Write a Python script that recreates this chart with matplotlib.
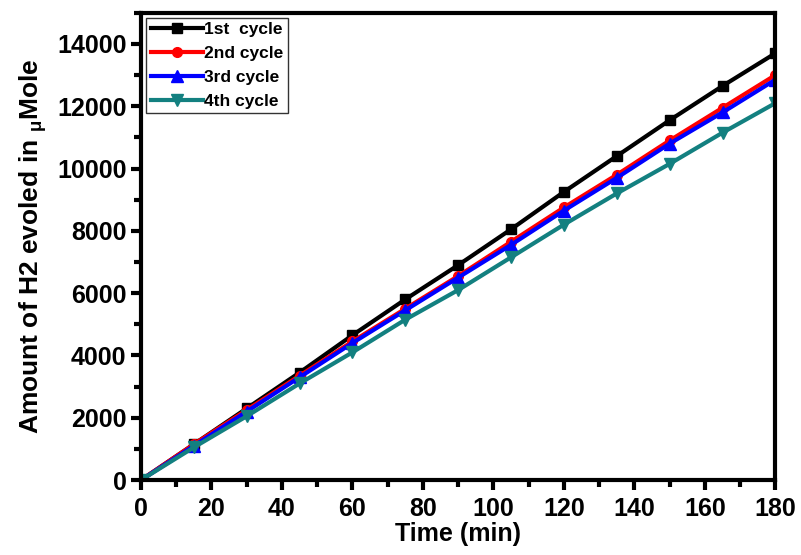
import numpy as np
import matplotlib.pyplot as plt
from matplotlib.ticker import MultipleLocator

plt.rcParams['font.family'] = ['Liberation Sans', 'DejaVu Sans']
plt.rcParams['font.weight'] = 'bold'

# time points (min) and H2 evolved (umol) for each cycle
time_min = [0, 15, 30, 45, 60, 75, 90, 105, 120, 135, 150, 165, 180]
cycle1 = [0, 1150, 2300, 3450, 4650, 5800, 6900, 8050, 9250, 10400, 11550, 12650, 13700]
cycle2 = [0, 1150, 2250, 3350, 4450, 5500, 6550, 7650, 8750, 9800, 10900, 11950, 13000]
cycle3 = [0, 1100, 2200, 3300, 4400, 5450, 6500, 7550, 8650, 9700, 10800, 11800, 12850]
cycle4 = [0, 1050, 2050, 3100, 4100, 5150, 6100, 7150, 8200, 9200, 10150, 11150, 12100]
labels = ['1st  cycle', '2nd cycle', '3rd cycle', '4th cycle']

fig = plt.figure(figsize=(8.01, 5.55), dpi=100)
ax = fig.add_axes([0.176, 0.135, 0.792, 0.842])

ax.plot(time_min, cycle1, c='black', marker='s', ms=7, lw=3, label=labels[0])
ax.plot(time_min, cycle2, c='red', marker='o', ms=7, lw=3, label=labels[1])
ax.plot(time_min, cycle3, c='blue', marker='^', ms=8, lw=3, label=labels[2])
ax.plot(time_min, cycle4, c='#138080', marker='v', ms=8, lw=3, label=labels[3])

ax.set_xlim(0, 180)
ax.set_ylim(0, 15000)
ax.xaxis.set_major_locator(MultipleLocator(20))
ax.xaxis.set_minor_locator(MultipleLocator(10))
ax.yaxis.set_major_locator(MultipleLocator(2000))
ax.yaxis.set_minor_locator(MultipleLocator(1000))
ax.tick_params(which='major', direction='out', length=7, width=3, labelsize=18)
ax.tick_params(axis='x', which='major', pad=5)
ax.tick_params(which='minor', direction='out', length=5, width=3)
for s in ax.spines.values():
    s.set_linewidth(3)

ax.set_xlabel('Time (min)', fontsize=18, fontweight='bold', labelpad=1)
ax.set_ylabel('Amount of H2 evoled in $\\mathregular{_{\\mu}}$Mole', fontsize=19,
              fontweight='bold', labelpad=6)

leg = ax.legend(loc='upper left', fontsize=12.5, frameon=True, fancybox=False,
                edgecolor='black', handlelength=3, borderpad=0.25, labelspacing=0.5,
                handletextpad=0.1, borderaxespad=0.3)
leg.get_frame().set_linewidth(1)

plt.savefig('out.png', dpi=100)
